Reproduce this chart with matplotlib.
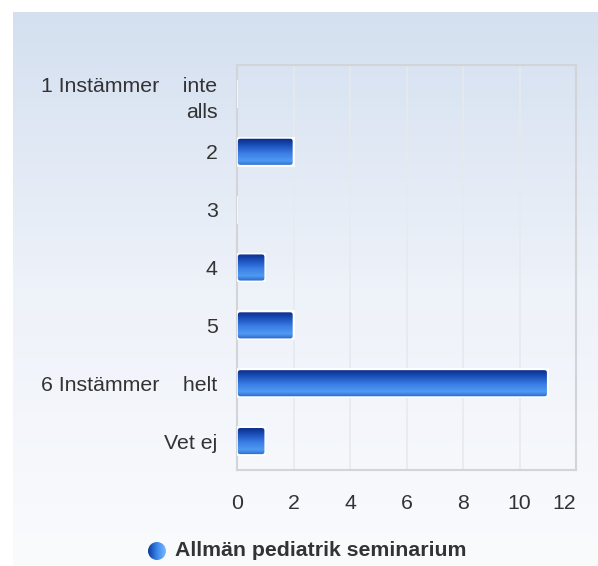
import numpy as np
import matplotlib
matplotlib.use("Agg")
import matplotlib.pyplot as plt
from matplotlib.colors import LinearSegmentedColormap
from matplotlib.patches import FancyBboxPatch, Circle

# chart data
categories = ["1 Instämmer    inte\nalls", "2", "3", "4", "5", "6 Instämmer    helt", "Vet ej"]
counts = [0, 2, 0, 1, 2, 11, 1]
x_ticks = [0, 2, 4, 6, 8, 10, 12]
series_name = "Allmän pediatrik seminarium"

plt.rcParams['font.family'] = ['Liberation Sans', 'DejaVu Sans']
text_color = "#333333"

W, H = 598, 566
fig = plt.figure(figsize=(W / 100, H / 100), dpi=100)
fig.patch.set_facecolor("white")

# background panel with vertical gradient
bg = fig.add_axes([13 / W, 0, 1 - 13 / W, 1 - 12 / H], zorder=-5)
bg_cmap = LinearSegmentedColormap.from_list("bg", ["#fafbfd", "#eef2f9", "#d4e0f0"])
bg.imshow(np.linspace(0, 1, 256).reshape(-1, 1), cmap=bg_cmap, aspect="auto",
          origin="lower", extent=[0, 1, 0, 1])
bg.axis("off")

ax = fig.add_axes([237 / W, 1 - 470 / H, (576 - 237) / W, (470 - 65) / H])
ax.patch.set_alpha(0)

y = np.arange(len(categories))
bars = ax.barh(y, counts, height=0.48, color="none", edgecolor="white", linewidth=1.2, zorder=3)

bar_cmap = LinearSegmentedColormap.from_list(
    "bar", [(0.0, "#2a66cc"), (0.18, "#4f9af2"), (0.45, "#3b7ee6"), (0.75, "#1a4fb8"), (1.0, "#0b2a86")])
grad = np.linspace(0, 1, 64).reshape(-1, 1)
for b in bars:
    x0, y0, w, h = b.get_x(), b.get_y(), b.get_width(), b.get_height()
    if w <= 0:
        continue
    shape = FancyBboxPatch((x0, y0), w, h, boxstyle="round,pad=0,rounding_size=0.12",
                           mutation_aspect=0.48, facecolor="none", edgecolor="white",
                           linewidth=1.2, zorder=5)
    ax.add_patch(shape)
    img = ax.imshow(grad, cmap=bar_cmap, aspect="auto", extent=[x0, x0 + w, y0 + h, y0],
                    origin="lower", zorder=4)
    img.set_clip_path(shape)

ax.set_xlim(0, 12)
ax.set_ylim(len(categories) - 0.5, -0.5)
ax.set_yticks(y)
ax.set_yticklabels(categories, fontsize=15.3, color=text_color, linespacing=1.45)
ax.set_xticks(x_ticks)
ax.set_xticklabels([str(t) for t in x_ticks], fontsize=15.3, color=text_color)
ax.get_xticklabels()[-1].set_horizontalalignment("right")
ax.tick_params(axis="y", length=0, pad=14)
ax.tick_params(axis="x", length=0, pad=17)

ax.grid(axis="x", color="#e6eaf0", linewidth=1.2, zorder=1)
ax.set_axisbelow(True)
for s in ax.spines.values():
    s.set_color("#d2d4d8")
    s.set_linewidth(1.5)

# legend: gradient dot + bold series name
leg_ax = fig.add_axes([0, 0, 1, 1], zorder=2)
leg_ax.set_xlim(0, W)
leg_ax.set_ylim(H, 0)
leg_ax.axis("off")
dot = Circle((157, 551), 9, facecolor="none", edgecolor="none")
leg_ax.add_patch(dot)
dot_cmap = LinearSegmentedColormap.from_list("dot", ["#0d3a9e", "#3a86ea", "#7ab8ff"])
dimg = leg_ax.imshow(np.linspace(0, 1, 64).reshape(1, -1), cmap=dot_cmap, aspect="auto",
                     extent=[148, 166, 560, 542], zorder=3)
dimg.set_clip_path(dot)
leg_ax.text(175, 551, series_name, ha="left", va="center", fontsize=15.3, fontweight="bold",
            color=text_color)

fig.savefig("out.png", dpi=100)
